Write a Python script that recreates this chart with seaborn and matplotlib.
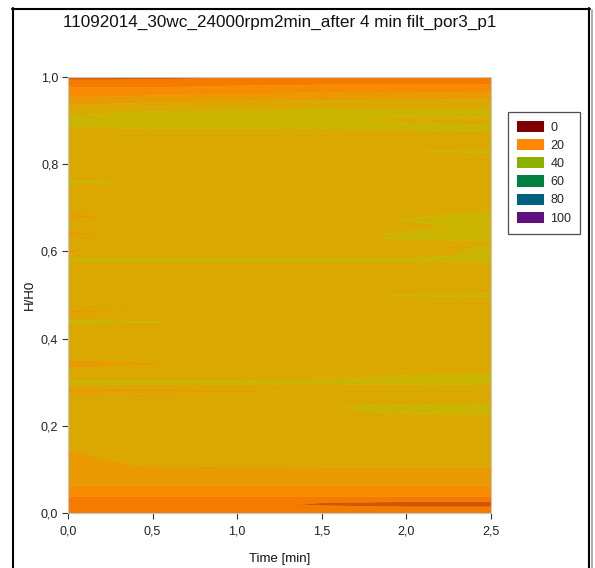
import numpy as np
import matplotlib
matplotlib.use("Agg")
import matplotlib.pyplot as plt
from matplotlib.patches import Patch
from matplotlib.lines import Line2D
import seaborn as sns

sns.set_theme(style="white")
plt.rcParams['font.family'] = ['Liberation Sans', 'DejaVu Sans']

# ---- data ----
times = [0.0, 0.25, 0.5, 1.0, 1.5, 2.0, 2.5]
heights = [0.000, 0.010, 0.020, 0.030, 0.045, 0.055, 0.070, 0.100, 0.110, 0.125,
           0.140, 0.150, 0.220, 0.232, 0.245, 0.255, 0.270, 0.280, 0.290, 0.300,
           0.310, 0.328, 0.342, 0.356, 0.430, 0.438, 0.446, 0.454, 0.462, 0.470,
           0.490, 0.500, 0.510, 0.570, 0.580, 0.590, 0.600, 0.610, 0.620, 0.630,
           0.640, 0.650, 0.660, 0.670, 0.680, 0.690, 0.700, 0.752, 0.760, 0.768,
           0.822, 0.830, 0.838, 0.865, 0.875, 0.885, 0.895, 0.903, 0.911, 0.920,
           0.928, 0.936, 0.944, 0.952, 0.960, 0.968, 0.976, 0.984, 0.992, 1.000]
porosity = [
    [20, 20, 20, 20, 20, 20, 20],              # 0.000
    [20, 20, 20, 20, 20, 20, 20],              # 0.010
    [20, 20, 20, 20, 17, 15, 15],              # 0.020
    [20, 20, 20, 20, 20, 20, 20],              # 0.030
    [24, 24, 24, 24, 24, 24, 24],              # 0.045
    [24, 24, 24, 24, 24, 24, 24],              # 0.055
    [28, 28, 28, 28, 28, 28, 28],              # 0.070
    [28, 28, 28, 28, 28, 28, 28],              # 0.100
    [28, 28.5, 31, 31.5, 32, 32, 32],          # 0.110
    [28, 30.5, 32, 32, 32, 32, 32],            # 0.125
    [29, 32, 32, 32, 32, 32, 32],              # 0.140
    [32, 32, 32, 32, 32, 32, 32],              # 0.150
    [32, 32, 32, 32, 32, 32, 32],              # 0.220
    [32, 32, 32, 32, 33, 35, 36],              # 0.232
    [32, 32, 32, 32, 33.5, 35.5, 36.5],        # 0.245
    [32, 32, 32, 32, 32, 32, 32],              # 0.255
    [32, 32, 32, 32, 32, 32, 32],              # 0.270
    [26.5, 27, 28, 29, 30.5, 32, 32],          # 0.280
    [32, 32, 32, 32, 32, 32, 32],              # 0.290
    [35.5, 35.5, 35.5, 35.5, 35.5, 36, 37],    # 0.300
    [32, 32, 32, 32, 33, 35, 36],              # 0.310
    [32, 32, 32, 32, 32, 32, 32],              # 0.328
    [26.5, 28.5, 29.5, 32, 32, 32, 32],        # 0.342
    [32, 32, 32, 32, 32, 32, 32],              # 0.356
    [32, 32, 32, 32, 32, 32, 32],              # 0.430
    [35.5, 35, 34.4, 32, 32, 32, 32],          # 0.438
    [32, 32, 32, 32, 32, 32, 32],              # 0.446
    [32, 32, 32, 32, 32, 32, 32],              # 0.454
    [28, 29, 30.2, 32, 32, 32, 32],            # 0.462
    [32, 32, 32, 32, 32, 32, 32],              # 0.470
    [32, 32, 32, 32, 32, 32, 32],              # 0.490
    [32, 32, 32, 32, 32, 34.5, 35.5],          # 0.500
    [32, 32, 32, 32, 32, 32, 32],              # 0.510
    [32, 32, 32, 32, 32, 32, 32],              # 0.570
    [35.5, 35.5, 35.5, 35.5, 35.5, 35.5, 35.5],  # 0.580
    [32, 32, 32, 32, 32, 32, 35.5],            # 0.590
    [28, 32, 32, 32, 32, 32, 35],              # 0.600
    [32, 32, 32, 32, 32, 32, 34.5],            # 0.610
    [32, 32, 32, 32, 32, 32, 33],              # 0.620
    [32, 32, 32, 32, 32.5, 34.5, 36],          # 0.630
    [26.5, 30.5, 32, 32, 32.5, 34.5, 36],      # 0.640
    [32, 32, 32, 32, 32, 33.5, 35.5],          # 0.650
    [32, 32, 32, 32, 32, 33, 35],              # 0.660
    [32, 32, 32, 32, 32, 34.2, 36],            # 0.670
    [26.5, 29.8, 32, 32, 32, 33.5, 35.5],      # 0.680
    [32, 32, 32, 32, 32, 32, 34.5],            # 0.690
    [32, 32, 32, 32, 32, 32, 32],              # 0.700
    [32, 32, 32, 32, 32, 32, 32],              # 0.752
    [35.5, 34.4, 32, 32, 32, 32, 32],          # 0.760
    [32, 32, 32, 32, 32, 32, 32],              # 0.768
    [32, 32, 32, 32, 32, 32, 32],              # 0.822
    [32, 32, 32, 32, 32, 33.5, 36],            # 0.830
    [32, 32, 32, 32, 32, 32, 32],              # 0.838
    [32, 32, 32, 32, 32, 32, 32],              # 0.865
    [32, 32, 32, 32, 32.5, 33.5, 34.2],        # 0.875
    [34, 34.5, 35, 35, 35, 35, 35],            # 0.885
    [35, 35, 35, 35, 35, 34, 33],              # 0.895
    [35, 35, 35, 35, 34.5, 33, 32.5],          # 0.903
    [34, 35, 35, 35, 35, 35, 35],              # 0.911
    [32, 33, 34.5, 35, 35, 35, 35],            # 0.920
    [31, 32, 32, 32.5, 33.5, 33.5, 33.5],      # 0.928
    [29.5, 31, 32, 32, 32, 32, 32],            # 0.936
    [27.5, 28, 29, 30, 31, 31.5, 32],          # 0.944
    [26, 26.5, 27, 27.5, 28, 28, 28.5],        # 0.952
    [25, 25, 25.5, 26, 26.5, 26.5, 27],        # 0.960
    [23.5, 23.5, 23.5, 24, 25, 25.5, 25.5],    # 0.968
    [22, 22, 22, 23, 23.5, 23.5, 24],          # 0.976
    [20.5, 20.5, 20.5, 21, 21.5, 21.5, 21.5],  # 0.984
    [18.5, 18.5, 19, 20, 20, 20, 20],          # 0.992
    [16, 16, 16, 17, 19, 20, 20],              # 1.000
]
levels = [0, 18, 22, 26, 30, 34, 100]
band_colors = ["#D45500", "#F57A00", "#F88C00", "#E89A00", "#DAA800", "#CBB400"]

legend_labels = ["0", "20", "40", "60", "80", "100"]
legend_colors = ["#800000", "#FF8800", "#8CB000", "#008040", "#006080", "#601080"]

title = "11092014_30wc_24000rpm2min_after 4 min filt_por3_p1"

# ---- figure ----
fig = plt.figure(figsize=(5.95, 5.68), dpi=100)
ax = fig.add_axes([68 / 595, (568 - 513) / 568, 423 / 595, 436 / 568])

T, H = np.meshgrid(times, heights)
Z = np.array(porosity, dtype=float)
cs = ax.contourf(T, H, Z, levels=levels, colors=band_colors, antialiased=True)
cs.set_edgecolor("face")
cs.set_linewidth(0.4)

ax.set_xlim(0, 2.5)
ax.set_ylim(0, 1.0)
xt = [0, 0.5, 1.0, 1.5, 2.0, 2.5]
yt = [0, 0.2, 0.4, 0.6, 0.8, 1.0]
ax.set_xticks(xt)
ax.set_yticks(yt)
ax.set_xticklabels([f"{v:.1f}".replace(".", ",") for v in xt], fontsize=9, color="#222222")
ax.set_yticklabels([f"{v:.1f}".replace(".", ",") for v in yt], fontsize=9, color="#222222")
ax.tick_params(axis="x", direction="out", length=4, width=0.8, color="#333333",
               bottom=True, pad=5)
ax.tick_params(axis="y", direction="out", length=4, width=0.8, color="#333333",
               left=True, pad=3)
for s in ax.spines.values():
    s.set_color("#C8C8C8")
    s.set_linewidth(0.8)

ax.set_xlabel("Time [min]", fontsize=9.5, color="#111111", va="center")
ax.set_ylabel("H/H0", fontsize=9.5, color="#111111", va="center")
ax.xaxis.set_label_coords(0.5, -(559 - 513) / 436)
ax.yaxis.set_label_coords((30 - 68) / 423, 0.5)
fig.text(280 / 595, 1 - 22 / 568, title, fontsize=12.3, ha="center", va="center", color="#111111")

# legend
handles = [Patch(facecolor=c, edgecolor="none") for c in legend_colors]
leg = fig.legend(handles, legend_labels, loc="upper left",
                 bbox_to_anchor=(508 / 595, 1 - 112 / 568), frameon=True,
                 fontsize=9, handlelength=2.16, handleheight=1.0, labelspacing=0.42,
                 borderpad=0.72, handletextpad=0.5, fancybox=False, borderaxespad=0)
leg.get_frame().set_edgecolor("#222222")
leg.get_frame().set_linewidth(0.9)

# outer frame
fig.add_artist(Line2D([12.5 / 595, 12.5 / 595], [0, 1 - 8 / 568], color="black", lw=1.5,
                      transform=fig.transFigure))
fig.add_artist(Line2D([12 / 595, 589.5 / 595], [1 - 8.5 / 568, 1 - 8.5 / 568], color="black",
                      lw=1.5, transform=fig.transFigure))
fig.add_artist(Line2D([589 / 595, 589 / 595], [0, 1 - 8 / 568], color="black", lw=1.5,
                      transform=fig.transFigure))
fig.add_artist(Line2D([591.5 / 595, 591.5 / 595], [0, 1 - 10 / 568], color="#A0A0A0", lw=1.2,
                      transform=fig.transFigure))

fig.savefig("out.png", dpi=100)
